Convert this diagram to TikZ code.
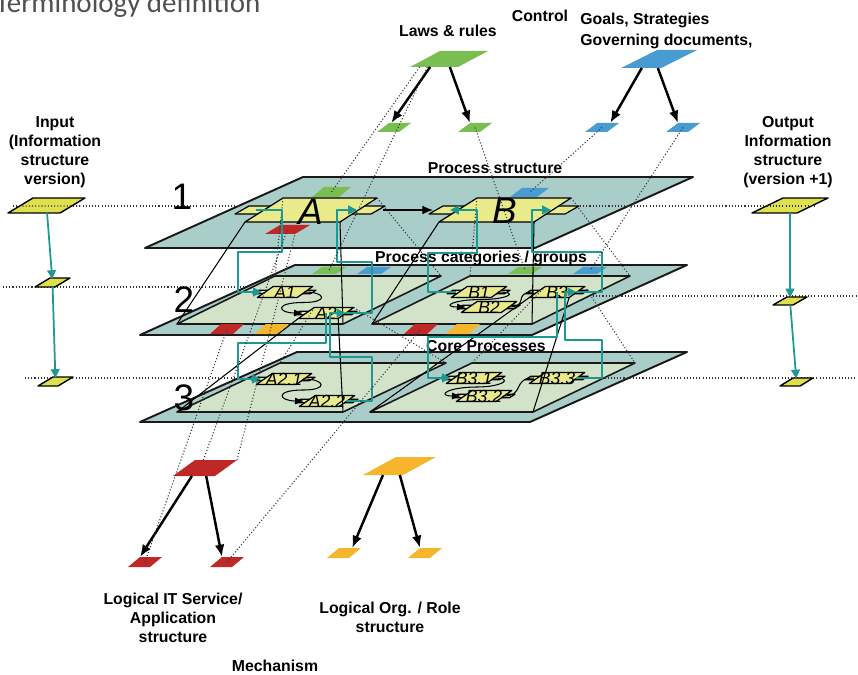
\documentclass[tikz,border=0pt]{standalone}
\usepackage{fontspec}
\setmainfont{Liberation Sans}
\newfontfamily\titlefont{Carlito}
\usetikzlibrary{arrows.meta,calc}

\definecolor{planeteal}{RGB}{169,205,201}
\definecolor{innergreen}{RGB}{211,227,201}
\definecolor{procyellow}{RGB}{232,234,140}
\definecolor{ioyellow}{RGB}{222,224,78}
\definecolor{flowteal}{RGB}{30,152,146}
\definecolor{resgreen}{RGB}{122,190,82}
\definecolor{resblue}{RGB}{72,156,210}
\definecolor{resred}{RGB}{190,40,38}
\definecolor{resorange}{RGB}{246,182,44}
\definecolor{titlegray}{RGB}{80,80,80}

% parallelogram: style, name, bottom-left x, y, width, height, slant
\newcommand{\pgram}[7]{%
  \path[#1] (#3,#4) coordinate (#2-bl) -- ++(#7,-#6) coordinate (#2-tl)
    -- ++(#5,0) coordinate (#2-tr) -- ++(-#7,#6) coordinate (#2-br) -- cycle;
  \coordinate (#2) at ($(#2-bl)!0.5!(#2-tr)$);
}

\tikzset{
  plane/.style={draw=black!90, line width=1.1pt, fill=planeteal},
  inner/.style={draw=black!90, line width=0.9pt, fill=innergreen},
  ioshape/.style={draw=black, line width=0.8pt, fill=ioyellow},
  procline/.style={draw=black, line width=0.7pt, fill=procyellow},
  flow/.style={draw=flowteal, line width=1pt, -{Triangle[length=5pt,width=5pt]}},
  dotline/.style={draw=black!80, line width=0.6pt, dash pattern=on 0.6pt off 1.2pt},
  projline/.style={draw=black, line width=0.6pt},
  bigarrow/.style={draw=black, line width=1.4pt, -{Latex[length=7pt,width=5.5pt]}},
  blackflow/.style={draw=black, line width=0.8pt, -{Latex[length=6pt,width=5pt]}},
  loopline/.style={draw=black, line width=0.6pt, -{Latex[length=5pt,width=4pt]}},
  lab/.style={font={\bfseries\fontsize{9}{10.8}\selectfont}, align=center, inner sep=0pt},
  numlab/.style={font={\fontsize{21}{21}\selectfont}, inner sep=0pt},
  biglab/.style={font={\itshape\fontsize{21}{21}\selectfont}, inner sep=0pt},
  proclab/.style={font={\itshape\fontsize{10}{10}\selectfont}, inner sep=0pt},
  pics/proc/.style={code={
    \draw[procline] (-76,4) -- (-62,-4) -- (-36,-4) -- (-50,4) -- cycle;
    \draw[procline] (34,4) -- (48,-4) -- (74,-4) -- (60,4) -- cycle;
    \draw[procline] (-66,12) -- (-28,-12) -- (66,-12) -- (29,12) -- cycle;
    \coordinate (-c) at (0,0);
    \coordinate (-in) at (-55,0);
    \coordinate (-out) at (46,0);
    \coordinate (-w) at (-72,0);
    \coordinate (-e) at (72,0);
    \coordinate (-bl) at (-66,12);
    \coordinate (-br) at (29,12);
    \coordinate (-tl) at (-28,-12);
    \coordinate (-tr) at (66,-12);
  }}
}

\newcommand{\loopflow}[2]{%
  \draw[loopline] (#1) .. controls +(22,0) and +(25,0) .. ($(#1)!0.5!(#2)$)
    .. controls +(-30,0) and +(-25,0) .. (#2);
}

\begin{document}
\begin{tikzpicture}[x=0.02cm, y=-0.02cm, line join=round]
\clip (0,0) rectangle (858,675);
\fill[white] (0,0) rectangle (858,675);

% heading
\node[anchor=base west, inner sep=0pt, text=titlegray,
      font={\titlefont\fontsize{16.5}{19}\selectfont}] (title) at (-5,13) {Terminology definition};

% level planes
\pgram{plane}{P3}{140}{422}{390}{70}{157}
\pgram{plane}{P2}{140}{335}{392}{70}{155}
\pgram{plane}{P1}{145}{248}{390}{71}{158}
\pgram{inner}{IA2}{177}{324}{166}{48}{98}
\pgram{inner}{IB2}{372}{324}{160}{48}{98}
\pgram{inner}{IA3}{177}{412}{166}{49}{103}
\pgram{inner}{IB3}{370}{412}{163}{49}{102}

% resource markers on the planes
\pgram{fill=resgreen}{gA1}{312}{197}{27}{10}{12}
\pgram{fill=resred}{rA1}{265}{234}{30}{9}{15}
\pgram{fill=resblue}{bB1}{510}{197}{27}{9}{12}
\pgram{fill=resgreen}{gA2}{312}{274}{24}{7}{10}
\pgram{fill=resblue}{bA2}{357}{274}{24}{7}{10}
\pgram{fill=resgreen}{gB2}{508}{274}{24}{7}{10}
\pgram{fill=resblue}{bB2}{573}{274}{24}{7}{10}
\pgram{fill=resred}{rA2}{210}{334}{23}{10}{11}
\pgram{fill=resorange}{oA2}{255}{334}{23}{10}{11}
\pgram{fill=resred}{rB2}{404}{334}{23}{10}{11}
\pgram{fill=resorange}{oB2}{446}{334}{23}{10}{11}

% ends of the level lines
\coordinate (d1a) at (13,206);  \coordinate (d1b) at (238,206);
\coordinate (d2a) at (3,287);   \coordinate (d2b) at (246,287);
\coordinate (d3a) at (25,378);  \coordinate (d3b) at (240,378);
\coordinate (d1c) at (580,206); \coordinate (d1d) at (817,206);
\coordinate (d2c) at (593,296); \coordinate (d2d) at (858,296);
\coordinate (d3c) at (595,378); \coordinate (d3d) at (855,378);

% processes
\pic (A) at (311,210) {proc};
\pic (B) at (505,210) {proc};
\pic[xscale=0.42, yscale=0.46] (A1) at (285,292) {proc};
\pic[xscale=0.42, yscale=0.46] (A2) at (326,313) {proc};
\pic[xscale=0.42, yscale=0.46] (B1) at (479,292) {proc};
\pic[xscale=0.42, yscale=0.46] (B2) at (489,307) {proc};
\pic[xscale=0.42, yscale=0.46] (B3) at (557,292) {proc};
\pic[xscale=0.42, yscale=0.46] (A21) at (284,379) {proc};
\pic[xscale=0.42, yscale=0.46] (A22) at (327,401) {proc};
\pic[xscale=0.42, yscale=0.46] (B31) at (474,378) {proc};
\pic[xscale=0.42, yscale=0.46] (B32) at (484,396) {proc};
\pic[xscale=0.42, yscale=0.46] (B33) at (557,378) {proc};

\node[biglab] (labA) at ($(A-c)+(0,2)$) {A};
\node[biglab] (labB) at ($(B-c)+(0,1)$) {B};
\node[proclab] (labA1) at (A1-c) {A1};
\node[proclab] (labA2) at (A2-c) {A2};
\node[proclab] (labB1) at (B1-c) {B1};
\node[proclab] (labB2) at (B2-c) {B2};
\node[proclab] (labB3) at (B3-c) {B3};
\node[proclab] (labA21) at (A21-c) {A2.1};
\node[proclab] (labA22) at (A22-c) {A2.2};
\node[proclab] (labB31) at (B31-c) {B3.1};
\node[proclab] (labB32) at (B32-c) {B3.2};
\node[proclab] (labB33) at (B33-c) {B3.3};

% plane captions
\node[lab] (cap1) at (495,168) {Process structure};
\node[lab] (cap2) at (481,258) {Process categories / groups};
\node[lab] (cap3) at (486,346) {Core Processes};

% decomposition lines
\draw[projline] (A-bl) -- (IA2-bl);
\draw[projline] (A-br) -- (IA2-br);
\draw[projline] (B-bl) -- (IB2-bl);
\draw[projline] (B-br) -- (IB2-br);
\draw[projline] (A2-bl) -- (IA3-bl);
\draw[projline] (A2-br) -- (IA3-br);
\draw[projline] (B3-bl) -- (IB3-bl);
\draw[projline] (B3-br) -- (IB3-br);
\draw[dotline] (A-tl) -- (IA2-tl);
\draw[dotline] (A-tr) -- (IA2-tr);
\draw[dotline] (B-tl) -- (IB2-tl);
\draw[dotline] (B-tr) -- (IB2-tr);
\draw[dotline] (A2-tl) -- (IA3-tl);
\draw[dotline] (A2-tr) -- (IA3-tr);
\draw[dotline] (B3-tl) -- (IB3-tl);
\draw[dotline] (B3-tr) -- (IB3-tr);

% level lines
\draw[dotline] (d1a) -- (d1b);
\draw[dotline] (d2a) -- (d2b);
\draw[dotline] (d3a) -- (d3b);
\draw[dotline] (d1c) -- (d1d);
\draw[dotline] (d2c) -- (d2d);
\draw[dotline] (d3c) -- (d3d);

% sequence inside the levels
\draw[blackflow] (A-e) -- (B-w);
\loopflow{A1-out}{A2-in}
\loopflow{B1-out}{B2-in}
\loopflow{A21-out}{A22-in}
\loopflow{B31-out}{B32-in}
\draw[loopline, -] (B2-out) .. controls +(22,0) and +(-22,0) .. (B3-in);
\draw[loopline, -] (B32-out) .. controls +(22,0) and +(-22,0) .. (B33-in);

% information flow between the levels
\draw[flow] (A-in) -- ++(26,0) |- (238,252) |- (A1-in);
\draw[flow] (A2-out) -| (372,262) -| (337,210) -- (A-out);
\draw[flow] (B1-in) -| (428,253) -| (477,210) -- (B-in);
\draw[flow] (B3-out) -| (602,252) -| (532,210) -- (B-out);
\draw[flow] (A2-c) |- (238,343) |- (A21-in);
\draw[flow] (A22-out) -| (372,357) -| (330,313) -- (A2-out);
\draw[flow] (B3-c) |- (428,337) |- (B31-in);
\draw[flow] (B33-out) -| (602,340) -| (565,292) -- (B3-out);

% level numbers
\node[numlab] (n1) at (182,197) {1};
\node[numlab] (n2) at (184,300) {2};
\node[numlab] (n3) at (184,398) {3};

% input and output versions
\pgram{ioshape}{in1}{8}{213}{52}{15}{25}
\pgram{ioshape}{in2}{35}{287}{20}{9}{15}
\pgram{ioshape}{in3}{38}{386}{20}{9}{15}
\pgram{ioshape}{out1}{752}{213}{45}{15}{31}
\pgram{ioshape}{out2}{773}{305}{20}{8}{14}
\pgram{ioshape}{out3}{780}{386}{20}{8}{13}
\draw[flow, shorten <=4pt, shorten >=2pt] (in1) -- (in2);
\draw[flow, shorten <=2.5pt, shorten >=2pt] (in2) -- (in3);
\draw[flow, shorten <=4pt, shorten >=2pt] (out1) -- (out2);
\draw[flow, shorten <=2.5pt, shorten >=2pt] (out2) -- (out3);
\draw[dotline] (d1a) -- ($(d1a)!0.3!(d1b)$);
\draw[dotline] (d1c) -- (d1d);

% control and mechanism structures
\pgram{fill=resgreen}{gbig}{410}{67}{48}{16}{30}
\pgram{fill=resgreen}{gsl}{377}{132}{22}{9}{12}
\pgram{fill=resgreen}{gsr}{458}{132}{22}{9}{12}
\pgram{fill=resblue}{bbig}{621}{68}{40}{18}{36}
\pgram{fill=resblue}{bsl}{585}{132}{22}{9}{12}
\pgram{fill=resblue}{bsr}{666}{132}{22}{9}{12}
\pgram{fill=resred}{rbig}{173}{476}{42}{16}{22}
\pgram{fill=resred}{rsl}{128}{567}{22}{10}{12}
\pgram{fill=resred}{rsr}{210}{567}{22}{10}{12}
\pgram{fill=resorange}{obig}{363}{475}{40}{18}{33}
\pgram{fill=resorange}{osl}{327}{558}{22}{10}{12}
\pgram{fill=resorange}{osr}{408}{558}{22}{10}{12}

\draw[bigarrow] ($(gbig-bl)!0.42!(gbig-br)$) -- ($(gsl-tl)!0.1!(gsl-tr)$);
\draw[bigarrow] ($(gbig-bl)!0.83!(gbig-br)$) -- (gsr-tl);
\draw[bigarrow] ($(bbig-bl)!0.52!(bbig-br)$) -- ($(bsl-tl)!0.6!(bsl-tr)$);
\draw[bigarrow] ($(bbig-bl)!0.92!(bbig-br)$) -- (bsr-tl);
\draw[bigarrow] ($(rbig-bl)!0.45!(rbig-br)$) -- (rsl-tl);
\draw[bigarrow] ($(rbig-bl)!0.79!(rbig-br)$) -- (rsr-tl);
\draw[bigarrow] ($(obig-bl)!0.5!(obig-br)$) -- ($(osl-tl)!0.6!(osl-tr)$);
\draw[bigarrow] ($(obig-bl)!0.92!(obig-br)$) -- (osr-tl);

% where the structures are used
\draw[dotline] ($(gbig-bl)!0.2!(gbig-br)$) -- (gA1);
\draw[dotline] ($(gbig-bl)!0.36!(gbig-br)$) -- (gA2);
\draw[dotline] (gsr) -- (gB2);
\draw[dotline] (bsl) -- (bB1);
\draw[dotline] (bsr) -- (bB2);
\draw[dotline] ($(rbig-tl)!0.2!(rbig-tr)$) -- (rA1);
\draw[dotline] (rbig-tr) -- (rA1-br);
\draw[dotline] (rsl) -- (rA2);
\draw[dotline] (rsr) -- (rB2);

% captions
\node[lab] (laws) at (448,31) {Laws \& rules};
\node[lab] (control) at (540,16) {Control};
\node[lab, anchor=west, align=left, font={\bfseries\fontsize{9}{12}\selectfont}] (goals) at (580,31) {Goals, Strategies\\Governing documents,};
\node[lab] (input) at (55,152) {Input\\(Information\\structure\\version)};
\node[lab] (output) at (788,152) {Output\\Information\\structure\\(version +1)};
\node[lab] (itsvc) at (173,618) {Logical IT Service/\\Application\\structure};
\node[lab] (org) at (390,617) {Logical Org. / Role\\structure};
\node[lab] (mech) at (275,666) {Mechanism};
\end{tikzpicture}
\end{document}
